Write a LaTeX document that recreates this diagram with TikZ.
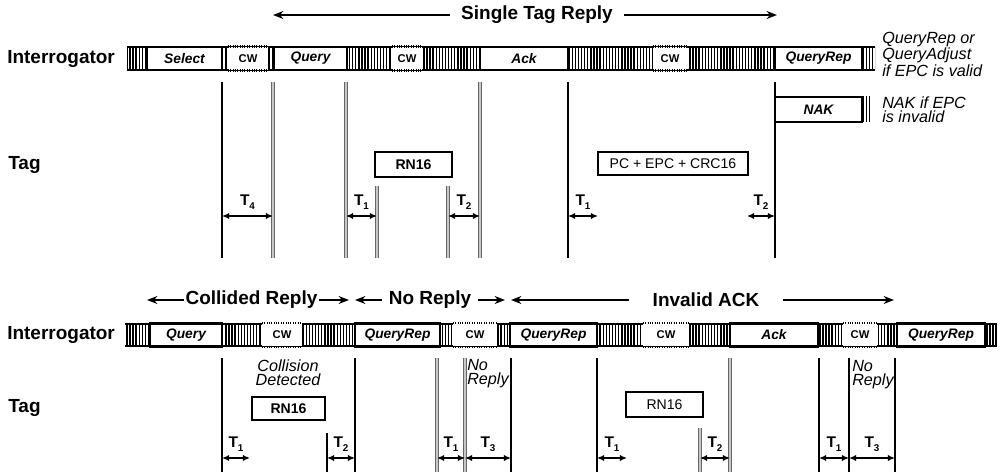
\documentclass[tikz,border=0pt]{standalone}
\usepackage{fontspec}
\setmainfont{Liberation Sans}
\usetikzlibrary{arrows.meta,positioning,patterns.meta}

\newcommand{\pxu}{0.025cm}
\newcommand{\tsub}[1]{T\raisebox{-0.45ex}{\fontsize{7}{7}\selectfont #1}}

\begin{document}
\begin{tikzpicture}[
  x=\pxu, y=-\pxu,
  rowlabel/.style={anchor=west, inner sep=0pt, font=\fontsize{13.5}{14}\selectfont\bfseries},
  header/.style={inner sep=1pt, font=\fontsize{13.5}{14}\selectfont\bfseries},
  cmd/.style={draw, line width=1.9pt, fill=white, inner sep=0pt, minimum height=23*\pxu,
    font=\fontsize{9.8}{11}\selectfont\bfseries\itshape},
  reply/.style={draw, line width=2pt, fill=white, inner sep=0pt, minimum height=24*\pxu,
    font=\fontsize{10}{11}\selectfont\bfseries},
  replyplain/.style={reply, font=\fontsize{10}{11}\selectfont},
  cwbox/.style={fill=white, inner sep=0pt, minimum height=23*\pxu, font=\fontsize{8}{9}\selectfont\bfseries},
  cwedge/.style={line width=1.8pt, dash pattern=on 0.6pt off 1.1pt},
  cwhatch/.style={pattern={Lines[angle=90,distance=2.2pt,line width=1pt]}},
  rowedge/.style={line width=1.2pt},
  note/.style={anchor=west, align=left, inner sep=0pt, font=\fontsize{11.5}{10}\selectfont\itshape},
  tick/.style={line width=1.1pt},
  gtick/.style={draw=black!60, double=black!22, double distance=1.2pt, line width=0.55pt},
  dtick/.style={draw=black!70, double=white, double distance=1.1pt, line width=0.4pt, dash pattern=on 3pt off 1pt},
  span/.style={{Latex[length=1.8mm,width=1.6mm]}-{Latex[length=1.8mm,width=1.6mm]}, line width=1.3pt},
  spanlabel/.style={inner sep=0pt, font=\fontsize{11}{12}\selectfont\bfseries},
  hdrarrow/.style={-{Stealth[length=2.6mm,width=2mm]}, line width=0.9pt}
]
\useasboundingbox (0,0) rectangle (1002,472);

\node[rowlabel] (intA) at (7,58.5) {Interrogator};
\node[rowlabel] (tagA) at (8,165) {Tag};
\node[rowlabel] (intB) at (7,335) {Interrogator};
\node[rowlabel] (tagB) at (8,408) {Tag};

% single tag reply
\node[header, inner xsep=8pt] (single) at (537,15) {Single Tag Reply};
\coordinate (singleL) at (273,15);
\coordinate (singleR) at (777,15);
\draw[hdrarrow] (single.west) -- (singleL);
\draw[hdrarrow] (single.east) -- (singleR);

\fill[cwhatch] (127,47) rectangle (875,70);
\draw[rowedge] (127,47) -- (875,47) (127,70) -- (875,70);
\node[cmd, minimum width=75*\pxu] (select) at (184.5,58.5) {Select};
\node[cwbox, minimum width=40*\pxu] (cwA) at (248,58.5) {CW};
\node[cmd, minimum width=73*\pxu] (query) at (310.5,58.5) {Query};
\node[cwbox, minimum width=30*\pxu] (cwB) at (407,58.5) {CW};
\node[cmd, minimum width=88*\pxu] (ack) at (524,58.5) {Ack};
\node[cwbox, minimum width=34*\pxu] (cwC) at (670,58.5) {CW};
\node[cmd, minimum width=87*\pxu] (qrep) at (818.5,58.5) {QueryRep};
\node[note] (qnote) at (882,54) {QueryRep or\\QueryAdjust\\if EPC is valid};

\fill[cwhatch] (862,97) rectangle (871,122);
\node[cmd, minimum width=87*\pxu, minimum height=25*\pxu] (nak) at (818.5,109.5) {NAK};
\node[note] (nnote) at (882,110) {NAK if EPC\\is invalid};

\node[reply, minimum width=77*\pxu, minimum height=25*\pxu] (rnA) at (413.5,164.5) {RN16};
\node[replyplain, minimum width=150*\pxu, minimum height=23*\pxu] (epc) at (673,163.5) {PC + EPC + CRC16};

% timing lines, upper
\draw[tick] (222,82) -- (222,258);
\draw[gtick] (273,82) -- (273,258);
\draw[gtick] (346,82) -- (346,258);
\draw[gtick] (377,186) -- (377,258);
\draw[gtick] (448,186) -- (448,258);
\draw[gtick] (480,82) -- (480,258);
\draw[tick] (568,82) -- (568,258);
\draw[dtick] (598,186) -- (598,258);
\draw[dtick] (747,186) -- (747,258);
\draw[tick] (775,82) -- (775,258);

\draw[span] (222,216) -- node[above=4pt, spanlabel] (tfA) {\tsub{4}} (273,216);
\draw[span] (346,216) -- node[above=4pt, spanlabel] (toA) {\tsub{1}} (377,216);
\draw[span] (448,216) -- node[above=4pt, spanlabel] (ttA) {\tsub{2}} (480,216);
\draw[span] (568,216) -- node[above=4pt, spanlabel] (toB) {\tsub{1}} (598,216);
\draw[span] (747,216) -- node[above=4pt, spanlabel] (ttB) {\tsub{2}} (775,216);

% collided / no reply / invalid ack
\node[header] (coll) at (251.5,300) {Collided Reply};
\node[header, inner xsep=5pt] (noreply) at (430,300) {No Reply};
\node[header, inner xsep=17pt] (invack) at (706,300) {Invalid ACK};
\coordinate (collL) at (147,300);
\coordinate (collR) at (349,300);
\coordinate (noL) at (355,300);
\coordinate (noR) at (505,300);
\coordinate (invL) at (511,300);
\coordinate (invR) at (894,300);
\draw[hdrarrow] (coll.west) -- (collL);
\draw[hdrarrow] (coll.east) -- (collR);
\draw[hdrarrow] (noreply.west) -- (noL);
\draw[hdrarrow] (noreply.east) -- (noR);
\draw[hdrarrow] (invack.west) -- (invL);
\draw[hdrarrow] (invack.east) -- (invR);

\fill[cwhatch] (125,324) rectangle (997,346);
\draw[rowedge] (125,324) -- (997,324) (125,346) -- (997,346);
\node[cmd, minimum width=72*\pxu] (queryB) at (186,335) {Query};
\node[cwbox, minimum width=40*\pxu] (cwD) at (282,335) {CW};
\node[cmd, minimum width=85*\pxu] (qrepB) at (397.5,335) {QueryRep};
\node[cwbox, minimum width=44*\pxu] (cwE) at (475,335) {CW};
\node[cmd, minimum width=87*\pxu] (qrepC) at (553.5,335) {QueryRep};
\node[cwbox, minimum width=46*\pxu] (cwF) at (666,335) {CW};
\node[cmd, minimum width=88*\pxu] (ackB) at (774,335) {Ack};
\node[cwbox, minimum width=34*\pxu] (cwG) at (860,335) {CW};
\node[cmd, minimum width=88*\pxu] (qrepD) at (941,335) {QueryRep};

\draw[cwedge] (cwA.north west) -- (cwA.north east) (cwA.south west) -- (cwA.south east);
\draw[cwedge] (cwB.north west) -- (cwB.north east) (cwB.south west) -- (cwB.south east);
\draw[cwedge] (cwC.north west) -- (cwC.north east) (cwC.south west) -- (cwC.south east);
\draw[cwedge] (cwD.north west) -- (cwD.north east) (cwD.south west) -- (cwD.south east);
\draw[cwedge] (cwE.north west) -- (cwE.north east) (cwE.south west) -- (cwE.south east);
\draw[cwedge] (cwF.north west) -- (cwF.north east) (cwF.south west) -- (cwF.south east);
\draw[cwedge] (cwG.north west) -- (cwG.north east) (cwG.south west) -- (cwG.south east);

\node[align=center, inner sep=0pt, font=\fontsize{11.5}{10}\selectfont\itshape] (collision) at (288,373) {Collision\\Detected};
\node[reply, minimum width=73*\pxu, minimum height=23*\pxu] (rnB) at (288.5,408.5) {RN16};
\node[note] (noteA) at (467,374) {No\\Reply};
\node[replyplain, minimum width=77*\pxu, minimum height=25*\pxu] (rnC) at (664.5,404.5) {RN16};
\node[note] (noteB) at (852,375) {No\\Reply};

% timing lines, lower
\draw[tick] (222,358) -- (222,472);
\draw[dtick] (250,433) -- (250,472);
\draw[tick] (327,433) -- (327,472);
\draw[tick] (355,358) -- (355,472);
\draw[gtick] (437,358) -- (437,472);
\draw[gtick] (465,358) -- (465,472);
\draw[tick] (511,358) -- (511,472);
\draw[tick] (597,358) -- (597,472);
\draw[dtick] (627,428) -- (627,472);
\draw[gtick] (700,428) -- (700,472);
\draw[gtick] (730,358) -- (730,472);
\draw[tick] (819,358) -- (819,472);
\draw[tick] (849,358) -- (849,472);
\draw[tick] (895,358) -- (895,472);

\draw[span] (222,458) -- node[above=4pt, spanlabel] (toC) {\tsub{1}} (250,458);
\draw[span] (327,458) -- node[above=4pt, spanlabel] (ttC) {\tsub{2}} (355,458);
\draw[span] (437,458) -- node[above=4pt, spanlabel] (toD) {\tsub{1}} (465,458);
\draw[span] (465,458) -- node[above=4pt, spanlabel] (tthA) {\tsub{3}} (511,458);
\draw[span] (597,458) -- node[above=4pt, spanlabel] (toE) {\tsub{1}} (627,458);
\draw[span] (700,458) -- node[above=4pt, spanlabel] (ttD) {\tsub{2}} (730,458);
\draw[span] (819,458) -- node[above=4pt, spanlabel] (toF) {\tsub{1}} (849,458);
\draw[span] (849,458) -- node[above=4pt, spanlabel] (tthB) {\tsub{3}} (895,458);
\end{tikzpicture}
\end{document}
